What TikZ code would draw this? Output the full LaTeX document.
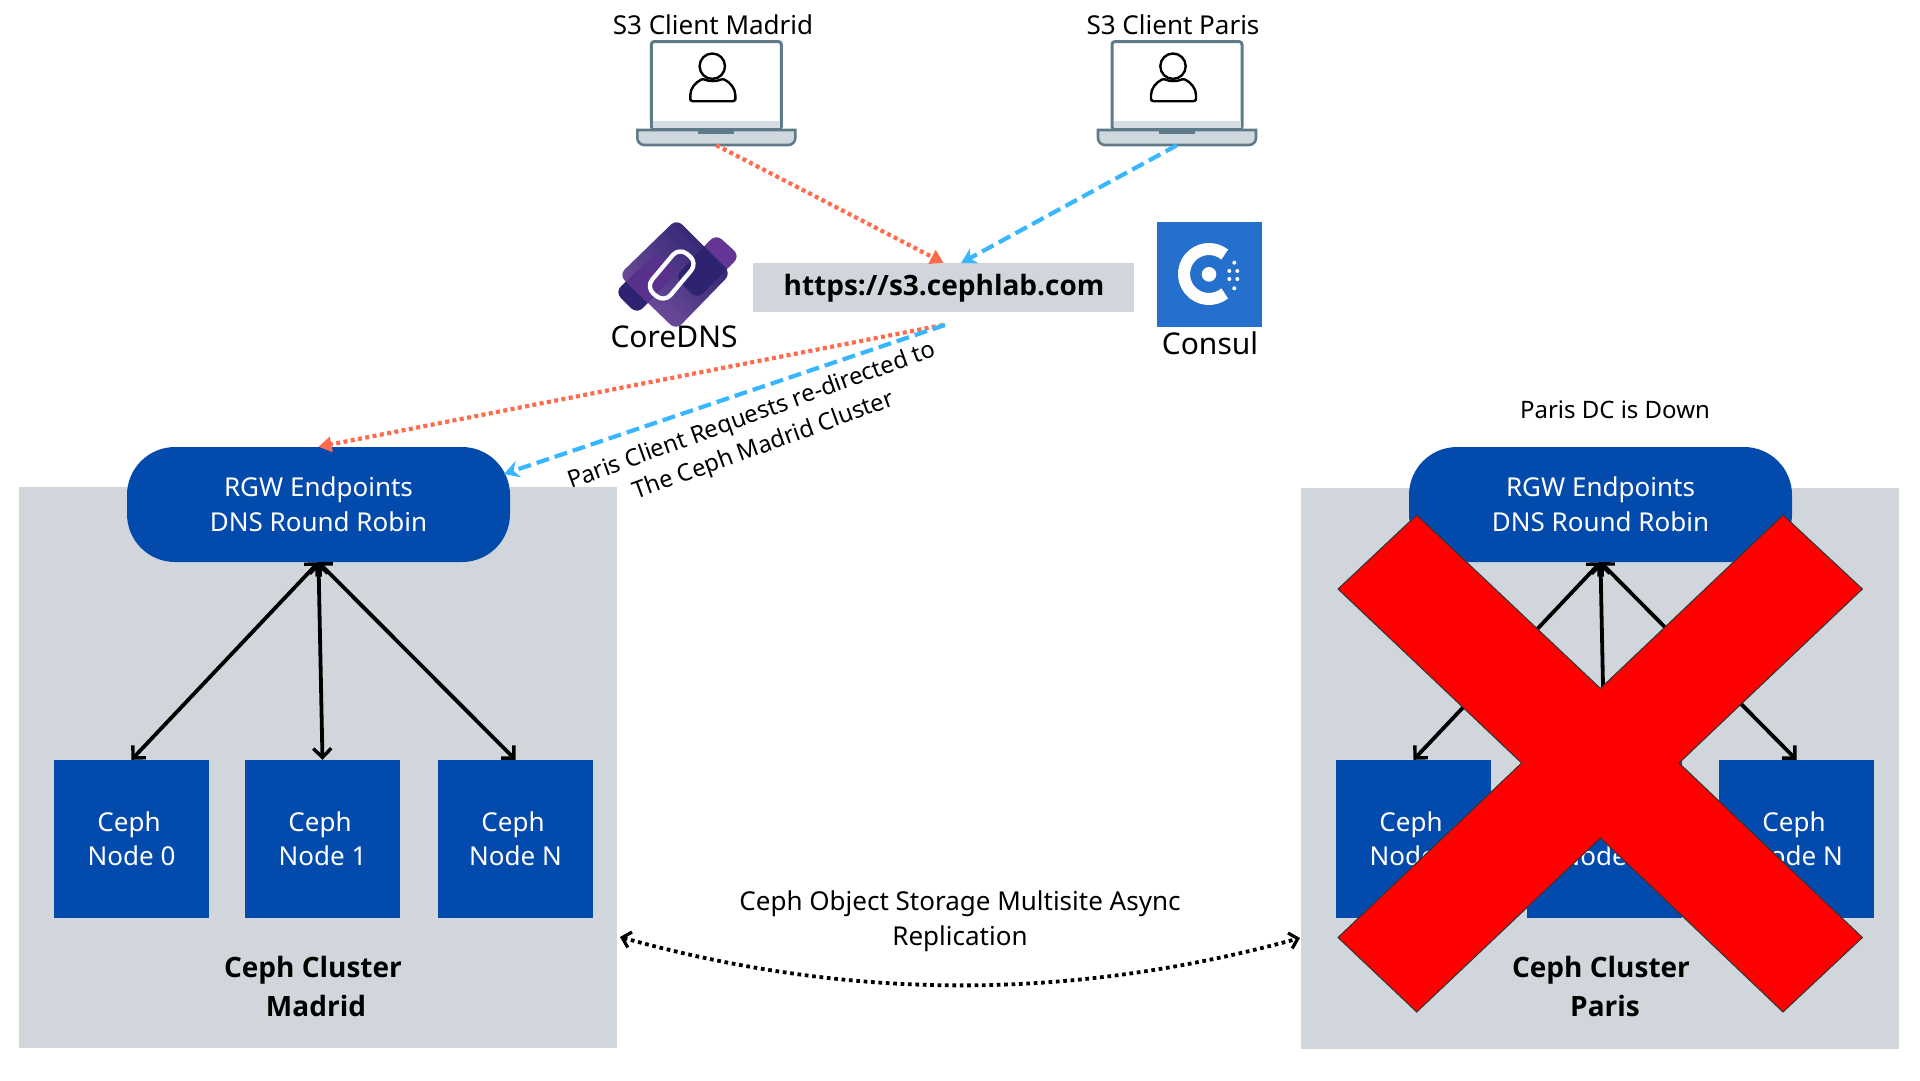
\documentclass[tikz,border=0pt]{standalone}
\usepackage{fontspec}
\setmainfont{Noto Sans}
\newfontfamily\heavyface{Open Sans}
\usetikzlibrary{arrows.meta,calc,shapes.geometric}
\definecolor{cephblue}{HTML}{034AAD}
\definecolor{panel}{HTML}{D0D6DC}
\definecolor{redline}{HTML}{FF6B4C}
\definecolor{blueline}{HTML}{38B6FF}
\definecolor{laptopedge}{HTML}{5F7B8A}
\definecolor{laptopbase}{HTML}{CFD8DE}
\definecolor{consulblue}{HTML}{2470CC}
\definecolor{darkviolet}{HTML}{2E2370}
\definecolor{midviolet}{HTML}{633594}
\definecolor{lightviolet}{HTML}{74509F}
\tikzset{
  x=1pt,y=-1pt,
  cluster/.style={fill=panel,draw=none,inner sep=0pt,minimum width=598pt,minimum height=561pt},
  rgwbox/.style={fill=cephblue,draw=none,rounded corners=48pt,inner sep=0pt,minimum width=383pt,minimum height=115pt,text=white,align=center,font=\fontsize{26}{35}\selectfont},
  cephbox/.style={fill=cephblue,draw=none,inner sep=0pt,minimum width=155pt,minimum height=158pt,text=white,align=center,font=\fontsize{26}{34}\selectfont},
  plain/.style={inner sep=0pt,align=center,font=\fontsize{26}{35}\selectfont},
  logolabel/.style={inner sep=0pt,align=center,font=\fontsize{30}{36}\selectfont},
  bolder/.style={inner sep=0pt,align=center,font=\fontsize{28}{38}\selectfont\heavyface\bfseries},
  small/.style={inner sep=0pt,align=center,font=\fontsize{24}{30}\selectfont},
  slanted/.style={inner sep=0pt,align=center,rotate=20,font=\fontsize{23.7}{30}\selectfont},
  fanout/.style={line width=3.8pt,black,{Straight Barb[length=9pt,width=18pt,line width=3.4pt]}-{Straight Barb[length=9pt,width=18pt,line width=3.4pt]}},
  redflow/.style={line width=4.2pt,redline,dash pattern=on 4pt off 3.4pt,-{Triangle[length=13pt,width=15pt]}},
  blueflow/.style={line width=4.2pt,blueline,dash pattern=on 13pt off 6pt,-{Stealth[length=15pt,width=17pt]}},
  syncflow/.style={line width=3.8pt,black,dash pattern=on 3.7pt off 3.7pt,{Straight Barb[length=8pt,width=16pt,line width=3.2pt]}-{Straight Barb[length=8pt,width=16pt,line width=3.2pt]}},
  laptop/.pic={
    \node[draw=laptopedge,line width=3pt,rounded corners=3pt,fill=white,inner sep=0pt,minimum width=130pt,minimum height=88pt] (-screen) at (0,-52) {};
    \fill[laptopbase!85!white] (-63.5,-17) rectangle (63.5,-9.5);
    \node[inner sep=0pt,minimum width=158pt,minimum height=15pt] (-base) at (0,0) {};
    \draw[laptopedge,line width=2.6pt,fill=laptopbase] (-79,-7.5) -- (79,-7.5) [rounded corners=7pt] -- (79,7.5) -- (-79,7.5) [sharp corners] -- cycle;
    \fill[laptopedge] (-18,-6.5) rectangle (18,-3.5);
    \draw[black,line width=2.4pt] (-4,-71.3) circle [radius=12.7pt];
    \draw[black,line width=2.4pt,line join=round,rounded corners=2.5pt] (-26,-36.3) -- (-26,-40) .. controls (-26,-49) and (-21,-55) .. (-13,-59) .. controls (-8,-56) and (1,-56) .. (6,-59) .. controls (14,-55) and (19,-49) .. (19,-40) -- (19,-36.3) -- cycle;
  }
}
\begin{document}
\begin{tikzpicture}
\useasboundingbox (0,0) rectangle (1920,1080);
\fill[white] (0,0) rectangle (1920,1080);

% clusters
\node[cluster] (madrid) at (318,767.5) {};
\node[cluster] (paris) at (1600,768.5) {};

% Madrid
\node[rgwbox] (rgwM) at (318.5,504.5) {RGW Endpoints\\DNS Round Robin};
\node[cephbox] (m0) at (131.5,839) {Ceph\hspace*{5pt}\\Node 0};
\node[cephbox] (m1) at (322.5,839) {Ceph\hspace*{5pt}\\Node 1};
\node[cephbox] (mN) at (515.5,839) {Ceph\hspace*{5pt}\\Node N};
\node[bolder] (mt1) at (313,970) {Ceph Cluster};
\node[bolder] (mt2) at (316,1006) {Madrid};
\draw[fanout] (rgwM.south) -- (m0.north);
\draw[fanout] (rgwM.south) -- (m1.north);
\draw[fanout] (rgwM.south) -- (mN.north);

% Paris
\node[rgwbox] (rgwP) at (1600.5,504.5) {RGW Endpoints\\DNS Round Robin};
\node[cephbox] (p0) at (1413.5,839) {Ceph\hspace*{5pt}\\Node 0};
\node[cephbox] (p1) at (1604.5,839) {Ceph\hspace*{5pt}\\Node 1};
\node[cephbox] (pN) at (1796.5,839) {Ceph\hspace*{5pt}\\Node N};
\node[bolder] (pt1) at (1601,970) {Ceph Cluster};
\node[bolder] (pt2) at (1605,1006) {Paris};
\draw[fanout] (rgwP.south) -- (p0.north);
\draw[fanout] (rgwP.south) -- (p1.north);
\draw[fanout] (rgwP.south) -- (pN.north);
\node[small] (down) at (1615,410) {Paris DC is Down};

% red cross
\fill[red,draw=black!80,line width=1pt,line join=miter] (1416.7,515) -- (1600.4,688.4) -- (1783,515) -- (1862.4,589) -- (1679,763) -- (1862.4,937.5) -- (1783,1012) -- (1600.4,838) -- (1416.7,1012) -- (1338,937.5) -- (1521.6,763) -- (1338,589) -- cycle;

% clients
\pic (lm) at (716.3,137.5) {laptop};
\pic (lp) at (1177,137.5) {laptop};
\node[plain] (lmt) at (713,25) {S3 Client Madrid};
\node[plain] (lpt) at (1173,25) {S3 Client Paris};

% URL
\node[fill=panel,inner sep=0pt,minimum width=381pt,minimum height=49pt] (url) at (943.5,287.5) {};
\node[inner sep=0pt,font=\fontsize{28}{34}\selectfont\heavyface\bfseries] (urlt) at (944,288) {https://s3.cephlab.com};

\coordinate (urlB) at (961,263);
\coordinate (urlOutR) at (943,325);
\coordinate (urlOutB) at (945,325);
\coordinate (rgwIn) at (504,474);
\draw[redflow] (lm-base.south) -- (url.north);
\draw[blueflow] (lp-base.south) -- (urlB);
\draw[redflow] (urlOutR) -- (rgwM.north);
\draw[blueflow] (urlOutB) -- (rgwIn);

\node[slanted] (s1) at (752,416.5) {Paris Client Requests re-directed to};
\node[slanted] (s2) at (764,446.5) {The Ceph Madrid Cluster};

% CoreDNS logo
\begin{scope}
  \fill[darkviolet,rounded corners=8pt] (658,251) -- (678,272) -- (637,314) -- (615,292) -- cycle;
  \fill[midviolet,rounded corners=8pt] (716,234) -- (740,256) -- (697,299) -- (675,277) -- cycle;
  \shade[rounded corners=8pt,top color=darkviolet,bottom color=lightviolet,shading angle=-45] (676.7,219) -- (731,273.3) -- (676,330) -- (619,275) -- cycle;
  \begin{scope}
    \clip[rounded corners=8pt] (676.7,219) -- (731,273.3) -- (676,330) -- (619,275) -- cycle;
    \fill[midviolet!80!darkviolet,rounded corners=8pt] (658,251) -- (678,272) -- (637,314) -- (615,292) -- cycle;
    \fill[darkviolet,rounded corners=8pt] (716,234) -- (740,256) -- (697,299) -- (675,277) -- cycle;
  \end{scope}
  \draw[white,line width=4.3pt,rounded corners=10pt,rotate around={50:(671.7,275)}] (645.7,263) rectangle (697.7,287);
\end{scope}
\node[logolabel] (dnst) at (674,337) {CoreDNS};

% Consul logo
\node[fill=consulblue,inner sep=0pt,minimum width=104.5pt,minimum height=104.5pt] (consul) at (1209.5,274.5) {};
\draw[white,line width=12pt] (1209,274) ++(51:25) arc[start angle=-51,end angle=-309,radius=25pt];
\fill[white] (1209,274.3) circle[radius=7.3pt];
\foreach \px/\py in {1234.3/262.7,1229.3/271,1237.3/271,1229.3/279,1237.3/279,1234.3/288.3}{
  \fill[white] (\px,\py) circle[radius=2pt];
}
\node[logolabel] (cont) at (1210,343) {Consul};

% Replication
\node[plain] (rep) at (960,921) {Ceph Object Storage Multisite Async\\Replication};
\coordinate (syncL) at (620,937);
\coordinate (syncR) at (1300,938);
\draw[syncflow] (syncL) .. controls (850,1001) and (1070,1001) .. (syncR);
\end{tikzpicture}
\end{document}
